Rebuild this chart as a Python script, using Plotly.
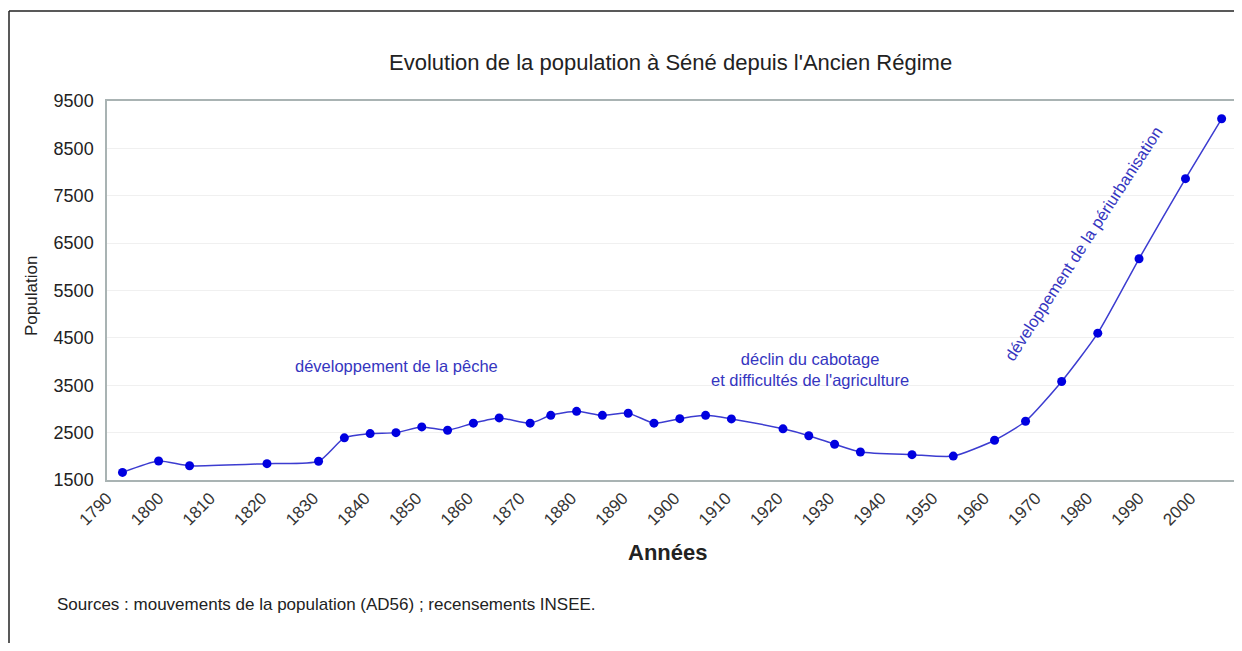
import plotly.graph_objects as go

years = [1793, 1800, 1806, 1821, 1831, 1836, 1841, 1846, 1851, 1856, 1861, 1866,
         1872, 1876, 1881, 1886, 1891, 1896, 1901, 1906, 1911, 1921, 1926, 1931,
         1936, 1946, 1954, 1962, 1968, 1975, 1982, 1990, 1999, 2006]
population = [1660, 1900, 1800, 1845, 1895, 2390, 2480, 2500, 2620, 2550, 2700, 2810,
              2700, 2865, 2950, 2865, 2910, 2700, 2795, 2865, 2790, 2580, 2435, 2255,
              2090, 2035, 2005, 2340, 2740, 3580, 4600, 6170, 7860, 9125]
y_ticks = [1500, 2500, 3500, 4500, 5500, 6500, 7500, 8500, 9500]
x_ticks = list(range(1790, 2001, 10))

FONT = "Liberation Sans, Arial, sans-serif"
ANN = "#3535c0"

# page body has an 8px offset; plot area target (px): left 107, top 101, bottom 480
W, H = 1226, 635
L, T = 99, 93
B = H - (480 - 8)
RIGHT_PX = 8 + W  # right edge of the plot area on the page

fig = go.Figure()
fig.add_trace(go.Scatter(
    x=years, y=population, mode="lines+markers",
    line=dict(color="#3c3cd0", width=1.5, shape="spline", smoothing=0.6),
    marker=dict(color="#0000e0", size=9),
    showlegend=False,
))

def px(xp):
    return (xp - 107) / (RIGHT_PX - 107)

def py(yp):
    return (480 - yp) / (480 - 101)

fig.update_layout(
    width=W, height=H,
    margin=dict(l=L, r=0, t=T, b=B),
    paper_bgcolor="white", plot_bgcolor="white",
    font=dict(family=FONT, color="#222222"),
    xaxis=dict(range=[1790, 2008.4], tickvals=x_ticks, ticktext=[str(t) for t in x_ticks],
               tickangle=-45, tickfont=dict(size=17, color="#333333"),
               showgrid=False, showline=True, linecolor="#a9b3b3", linewidth=1.5,
               mirror=True, ticks="", zeroline=False),
    yaxis=dict(range=[1500, 9500], tickvals=y_ticks, tickfont=dict(size=18, color="#222222"),
               showgrid=True, gridcolor="#f0f0f0", gridwidth=1,
               showline=True, linecolor="#a9b3b3", linewidth=1.5, mirror=False,
               ticks="", zeroline=False, ticklabelstandoff=8),
    annotations=[
        dict(text="Evolution de la population à Séné depuis l'Ancien Régime",
             xref="paper", yref="paper", x=px(670), y=py(62), showarrow=False,
             font=dict(size=22, color="#222222"), xanchor="center", yanchor="middle"),
        dict(text="Population", xref="paper", yref="paper", x=px(31), y=py(296),
             textangle=-90, showarrow=False, font=dict(size=17, color="#222222"),
             xanchor="center", yanchor="middle"),
        dict(text="<b>Années</b>", xref="paper", yref="paper", x=px(667), y=py(552),
             showarrow=False, font=dict(size=22, color="#222222"),
             xanchor="center", yanchor="middle"),
        dict(text="Sources : mouvements de la population (AD56) ; recensements INSEE.",
             xref="paper", yref="paper", x=px(55), y=py(604), showarrow=False,
             font=dict(size=17, color="#222222"), xanchor="left", yanchor="middle"),
        dict(text="développement de la pêche", xref="paper", yref="paper",
             x=px(396), y=py(366), showarrow=False, font=dict(size=16.5, color=ANN),
             xanchor="center", yanchor="middle"),
        dict(text="déclin du cabotage<br>et difficultés de l'agriculture",
             xref="paper", yref="paper", x=px(810), y=py(369), showarrow=False,
             font=dict(size=16.5, color=ANN), xanchor="center", yanchor="middle"),
        dict(text="développement de la périurbanisation", xref="paper", yref="paper",
             x=px(1083), y=py(244), textangle=-57, showarrow=False,
             font=dict(size=16.5, color=ANN), xanchor="center", yanchor="middle"),
    ],
    shapes=[
        dict(type="line", xref="paper", yref="paper",
             x0=px(9), x1=px(9), y0=py(700), y1=py(11),
             line=dict(color="#222222", width=1.5), layer="below"),
        dict(type="line", xref="paper", yref="paper",
             x0=px(9), x1=px(1320), y0=py(11), y1=py(11),
             line=dict(color="#222222", width=1.5), layer="below"),
    ],
)

fig.write_html("out.html")
